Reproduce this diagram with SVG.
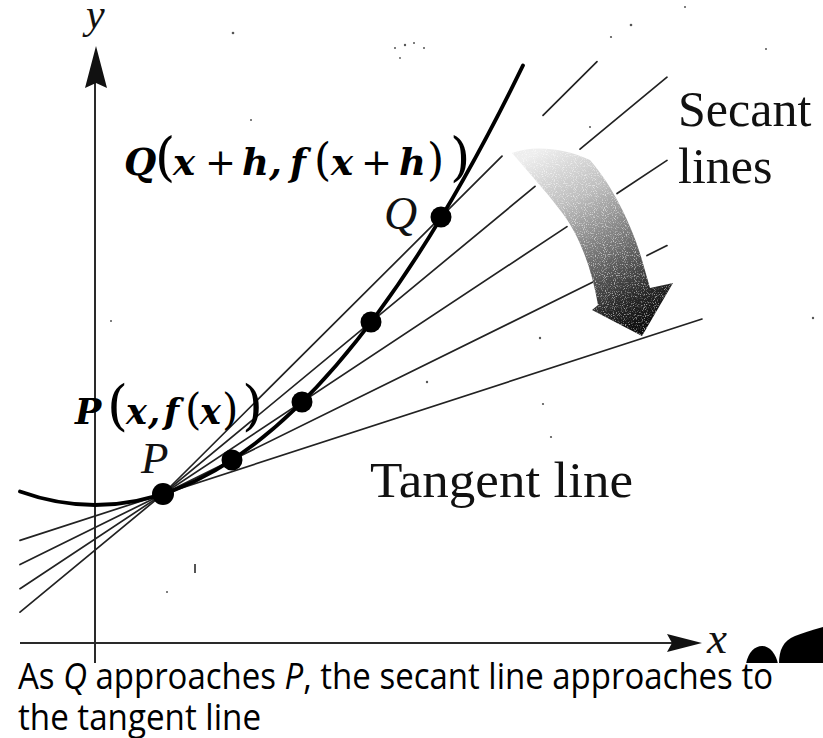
<svg xmlns="http://www.w3.org/2000/svg" width="823" height="738" viewBox="0 0 823 738">
<style>
.axis{stroke:#2a2a2a;stroke-width:2;fill:none}
.sec{stroke:#222;stroke-width:1.7;fill:none;stroke-linecap:round}
.curve{stroke:#000;stroke-width:3.8;fill:none;stroke-linecap:round}
.dot{fill:#000}
.serif{font-family:"Liberation Serif","Times New Roman",serif;fill:#111}
.it{font-style:italic}
.math{font-family:"DejaVu Serif","Liberation Serif",serif;fill:#000}
.bi{font-weight:bold;font-style:italic}
.cap{font-family:"Open Sans","Noto Sans","Liberation Sans",sans-serif;fill:#000}
.speck{fill:#555}
</style>
<defs>
<linearGradient id="arrowGrad" gradientUnits="userSpaceOnUse" x1="540" y1="150" x2="635" y2="330">
<stop offset="0" stop-color="#eeeeee"/>
<stop offset="0.3" stop-color="#bcbcbc"/>
<stop offset="0.6" stop-color="#707070"/>
<stop offset="0.85" stop-color="#2a2a2a"/>
<stop offset="1" stop-color="#0d0d0d"/>
</linearGradient>
<clipPath id="arrowClip">
<path id="arrowShape" d="M512,153 C530,146 560,146 590,160 C612,185 632,225 642,260 L650,288 L673,283 L642,336 L592,310 L598,305 C592,270 580,235 560,210 C545,190 528,172 512,153 Z"/>
</clipPath>
<filter id="stipple" x="0" y="0" width="100%" height="100%">
<feTurbulence type="fractalNoise" baseFrequency="0.9" numOctaves="1" seed="7" result="n"/>
<feColorMatrix in="n" type="matrix" values="0 0 0 0 1  0 0 0 0 1  0 0 0 0 1  5 0 0 0 -2.6"/>
</filter>
</defs>
<rect width="823" height="738" fill="#fff"/>

<g id="axes">
<line class="axis" x1="95" y1="80" x2="95" y2="665"/>
<polygon points="96,46 107,88 96,83 85,88" fill="#111"/>
<line class="axis" x1="20" y1="643" x2="672" y2="643"/>
<polygon points="702,643 667,634 672,643 667,652" fill="#111"/>
<text class="serif it" x="86" y="28" font-size="42">y</text>
<text class="serif it" x="707" y="653" font-size="45">x</text>
</g>

<g id="connectors">
<line class="sec" x1="20" y1="540.4" x2="702" y2="319"/>
<line class="sec" x1="20" y1="564.5" x2="593" y2="282.1"/>
<line class="sec" x1="647" y1="255.5" x2="667" y2="245.6"/>
<line class="sec" x1="20" y1="588.7" x2="567" y2="226.6"/>
<line class="sec" x1="617" y1="193.5" x2="667" y2="160.4"/>
<line class="sec" x1="20" y1="612.2" x2="535" y2="186.4"/>
<line class="sec" x1="580" y1="149.2" x2="667" y2="77.2"/>
<line class="sec" x1="163" y1="494" x2="502" y2="156.2"/>
<line class="sec" x1="543" y1="115.4" x2="597" y2="61.6"/>
</g>

<g id="curve">
<path class="curve" d="M20,491.5 Q271.5,582 523,65.4"/>
</g>

<g id="arrow">
<use href="#arrowShape" fill="url(#arrowGrad)"/>
<g clip-path="url(#arrowClip)">
<rect x="505" y="140" width="175" height="200" filter="url(#stipple)" opacity="0.55"/>
</g>
</g>

<g id="point-P"><circle class="dot" cx="163" cy="494" r="11"/></g>
<g id="point-1"><circle class="dot" cx="232" cy="460" r="10.5"/></g>
<g id="point-2"><circle class="dot" cx="302" cy="402" r="10.5"/></g>
<g id="point-3"><circle class="dot" cx="371" cy="322" r="10.5"/></g>
<g id="point-Q"><circle class="dot" cx="441" cy="217" r="10.5"/></g>

<g id="label-Q-math">
<text class="math" y="175" font-size="37"><tspan class="bi" x="124">Q</tspan><tspan x="155" font-size="52">(</tspan><tspan class="bi" x="173">x</tspan><tspan x="205">+</tspan><tspan class="bi" x="242">h</tspan><tspan class="bi" x="269">,</tspan><tspan class="bi" x="290">f</tspan><tspan x="314" font-size="44">(</tspan><tspan class="bi" x="331">x</tspan><tspan x="361">+</tspan><tspan class="bi" x="399">h</tspan><tspan x="427" font-size="44">)</tspan><tspan x="450" font-size="52">)</tspan></text>
</g>
<g id="label-P-math">
<text class="math" y="424" font-size="35"><tspan class="bi" x="75">P</tspan><tspan x="107" font-size="54">(</tspan><tspan class="bi" x="126">x</tspan><tspan class="bi" x="148">,</tspan><tspan class="bi" x="164">f</tspan><tspan x="185" font-size="42">(</tspan><tspan class="bi" x="200">x</tspan><tspan x="222" font-size="42">)</tspan><tspan x="242" font-size="54">)</tspan></text>
</g>
<g id="label-Q"><text class="serif it" x="384" y="229" font-size="46">Q</text></g>
<g id="label-P"><text class="serif it" x="141" y="473" font-size="45">P</text></g>
<g id="label-secant">
<text class="serif" x="678" y="126" font-size="50">Secant</text>
<text class="serif" x="678" y="183" font-size="50">lines</text>
</g>
<g id="label-tangent"><text class="serif" x="370" y="497" font-size="50" textLength="263" lengthAdjust="spacingAndGlyphs">Tangent line</text></g>

<g id="specks">
<circle class="speck" cx="233" cy="33" r="1.3"/>
<circle class="speck" cx="251" cy="120" r="1"/>
<circle class="speck" cx="111" cy="321" r="1"/>
<circle class="speck" cx="395" cy="48" r="1"/>
<circle class="speck" cx="405" cy="45" r="1.2"/>
<circle class="speck" cx="414" cy="43" r="1"/>
<circle class="speck" cx="424" cy="48" r="1"/>
<circle class="speck" cx="400" cy="58" r="0.9"/>
<circle class="speck" cx="611" cy="37" r="1.1"/>
<circle class="speck" cx="631" cy="25" r="1.3"/>
<circle class="speck" cx="685" cy="7" r="1"/>
<circle class="speck" cx="766" cy="49" r="1"/>
<circle class="speck" cx="590" cy="127" r="1"/>
<circle class="speck" cx="540" cy="338" r="1.2"/>
<circle class="speck" cx="427" cy="382" r="1.2"/>
<circle class="speck" cx="543" cy="404" r="1.1"/>
<circle class="speck" cx="551" cy="437" r="1.1"/>
<circle class="speck" cx="813" cy="318" r="1.2"/>
<circle class="speck" cx="167" cy="592" r="1"/>
<rect class="speck" x="194" y="564" width="2" height="9"/>
</g>

<g id="blobs">
<path d="M746,664 C748,652 755,646 762,646 C770,646 776,654 778,664 Z" fill="#000"/>
<path d="M779,664 C779,650 783,641 795,636 C803,633 812,630 823,627 L823,664 Z" fill="#000"/>
</g>

<rect x="0" y="663" width="823" height="75" fill="#fff"/>
<g id="caption">
<text class="cap" x="18" y="689" font-size="36" textLength="755" lengthAdjust="spacingAndGlyphs">As <tspan font-style="italic">Q</tspan> approaches <tspan font-style="italic">P</tspan>, the secant line approaches to</text>
<text class="cap" x="18" y="730" font-size="36" textLength="243" lengthAdjust="spacingAndGlyphs">the tangent line</text>
</g>
</svg>
